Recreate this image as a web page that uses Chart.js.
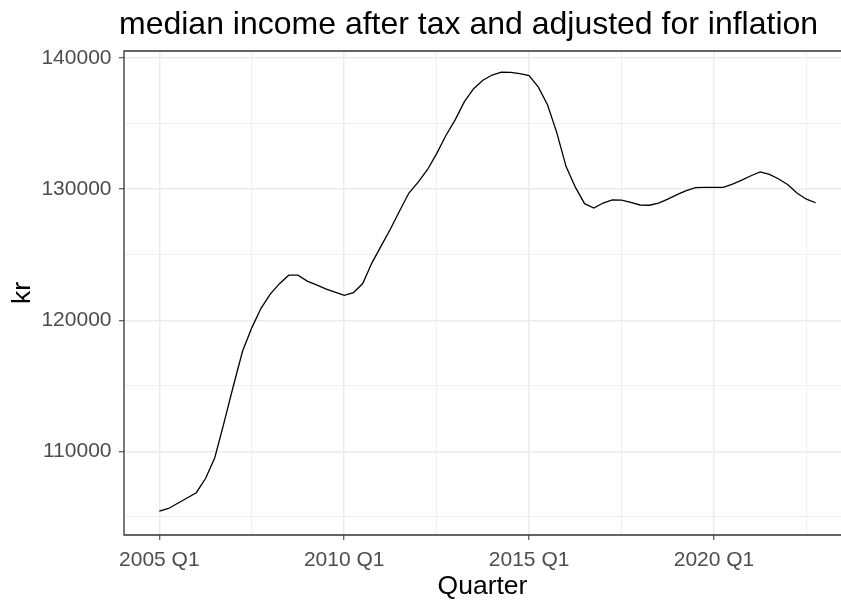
<!DOCTYPE html>
<html>
<head>
<meta charset="utf-8">
<script src="https://cdn.jsdelivr.net/npm/chart.js@4.4.0/dist/chart.umd.min.js"></script>
<style>
  html, body { margin: 0; padding: 0; background: #ffffff; overflow: hidden; }
  #wrap { width: 841px; height: 603px; }
</style>
</head>
<body>
<div id="wrap"><canvas id="c" width="841" height="603"></canvas></div>
<script>
// ---- data ----
const chartTitle = 'median income after tax and adjusted for inflation';
const xTitle = 'Quarter';
const yTitle = 'kr';

const years = [2005, 2006, 2007, 2008, 2009, 2010, 2011, 2012, 2013,
               2014, 2015, 2016, 2017, 2018, 2019, 2020, 2021, 2022];
const quarterNames = ['Q1', 'Q2', 'Q3', 'Q4'];

// median income per quarter (kr), 2005 Q1 .. 2022 Q4
const income = [
  105450, 105650, 106050, 106450,
  106850, 107930, 109520, 112190,
  114970, 117640, 119420, 120910,
  122000, 122790, 123440, 123440,
  122990, 122700, 122400, 122150,
  121900, 122100, 122800, 124380,
  125670, 126960, 128350, 129700,
  130540, 131480, 132710, 134090,
  135280, 136670, 137660, 138300,
  138700, 138920, 138900, 138800,
  138650, 137780, 136420, 134290,
  131720, 130150, 128890, 128550,
  128940, 129180, 129160, 128990,
  128790, 128770, 128940, 129240,
  129580, 129880, 130110, 130130,
  130130, 130130, 130380, 130680,
  131020, 131320, 131120, 130770,
  130330, 129680, 129230, 128960
];

const xTickLabels = ['2005 Q1', '2010 Q1', '2015 Q1', '2020 Q1'];
const xMinorGrid = [2007.5, 2012.5, 2017.5, 2022.5];
const yTickValues = [110000, 120000, 130000, 140000];
const yMinorGrid = [105000, 115000, 125000, 135000];

// ---- build ----
const quarters = [];
years.forEach(y => quarterNames.forEach(q => quarters.push(y + ' ' + q)));
const qToNum = s => { const [y, q] = s.split(' '); return +y + (+q.slice(1) - 1) / 4; };
const points = quarters.map((q, i) => ({ x: qToNum(q), y: income[i] }));
const xMajor = xTickLabels.map(qToNum);
const xTicksAll = xMajor.concat(xMinorGrid).sort((a, b) => a - b);
const yTicksAll = yTickValues.concat(yMinorGrid).sort((a, b) => a - b);

const FONT = '"Liberation Sans", Arial, sans-serif';

// panel border (the right side of the panel lies beyond the picture edge)
const framePlugin = {
  id: 'frame',
  afterDatasetsDraw(chart) {
    const { ctx, chartArea: a } = chart;
    ctx.save();
    ctx.strokeStyle = '#333333';
    ctx.lineWidth = 1.3;
    ctx.beginPath();
    ctx.moveTo(chart.width + 2, a.top);
    ctx.lineTo(a.left, a.top);
    ctx.lineTo(a.left, a.bottom);
    ctx.lineTo(chart.width + 2, a.bottom);
    ctx.stroke();
    ctx.restore();
  }
};
const titlePlugin = {
  id: 'ggtitle',
  afterDraw(chart) {
    const { ctx, chartArea: a } = chart;
    ctx.save();
    ctx.font = '32px ' + FONT;
    ctx.fillStyle = '#000000';
    ctx.textAlign = 'left';
    ctx.textBaseline = 'alphabetic';
    ctx.fillText(chartTitle, a.left - 5, 34);
    ctx.restore();
  }
};

const isMajorX = v => xMajor.some(m => Math.abs(m - v) < 1e-6);
const isMajorY = v => yTickValues.includes(v);

new Chart(document.getElementById('c'), {
  type: 'line',
  data: {
    datasets: [{
      data: points,
      borderColor: '#000000',
      borderWidth: 1.3,
      pointRadius: 0,
      tension: 0,
      fill: false
    }]
  },
  options: {
    responsive: false,
    animation: false,
    devicePixelRatio: 1,
    layout: { padding: { top: 51, left: 0, right: 0, bottom: 0 } },
    plugins: { legend: { display: false }, title: { display: false }, tooltip: { enabled: false } },
    scales: {
      x: {
        type: 'linear',
        min: 2004.045,
        max: 2023.434,
        afterBuildTicks: s => { s.ticks = xTicksAll.map(v => ({ value: v })); },
        afterFit: s => { s.height = 68; },
        border: { display: false },
        grid: {
          color: '#EBEBEB',
          lineWidth: c => (c.tick && isMajorX(c.tick.value)) ? 1.5 : 0.8,
          tickColor: c => (c.tick && isMajorX(c.tick.value)) ? '#333333' : 'rgba(0,0,0,0)',
          tickWidth: 1,
          tickLength: 5
        },
        ticks: {
          autoSkip: false,
          maxRotation: 0,
          padding: 8,
          color: '#4D4D4D',
          font: { family: FONT, size: 21 },
          callback: v => {
            const i = xMajor.findIndex(m => Math.abs(m - v) < 1e-6);
            return i >= 0 ? xTickLabels[i] : '';
          }
        },
        title: {
          display: true,
          text: xTitle,
          color: '#000000',
          font: { family: FONT, size: 26.5 },
          padding: { top: 0, bottom: 0 }
        }
      },
      y: {
        min: 103625,
        max: 140533,
        afterBuildTicks: s => { s.ticks = yTicksAll.map(v => ({ value: v })); },
        afterFit: s => { s.width = 124; },
        border: { display: false },
        grid: {
          color: '#EBEBEB',
          lineWidth: c => (c.tick && isMajorY(c.tick.value)) ? 1.5 : 0.8,
          tickColor: c => (c.tick && isMajorY(c.tick.value)) ? '#333333' : 'rgba(0,0,0,0)',
          tickWidth: 1,
          tickLength: 5
        },
        ticks: {
          padding: 7.5,
          color: '#4D4D4D',
          font: { family: FONT, size: 21 },
          callback: v => isMajorY(v) ? String(v) : ''
        },
        title: {
          display: true,
          text: yTitle,
          color: '#000000',
          font: { family: FONT, size: 26.5 },
          padding: { top: 7, bottom: 0 }
        }
      }
    }
  },
  plugins: [framePlugin, titlePlugin]
});
</script>
</body>
</html>
